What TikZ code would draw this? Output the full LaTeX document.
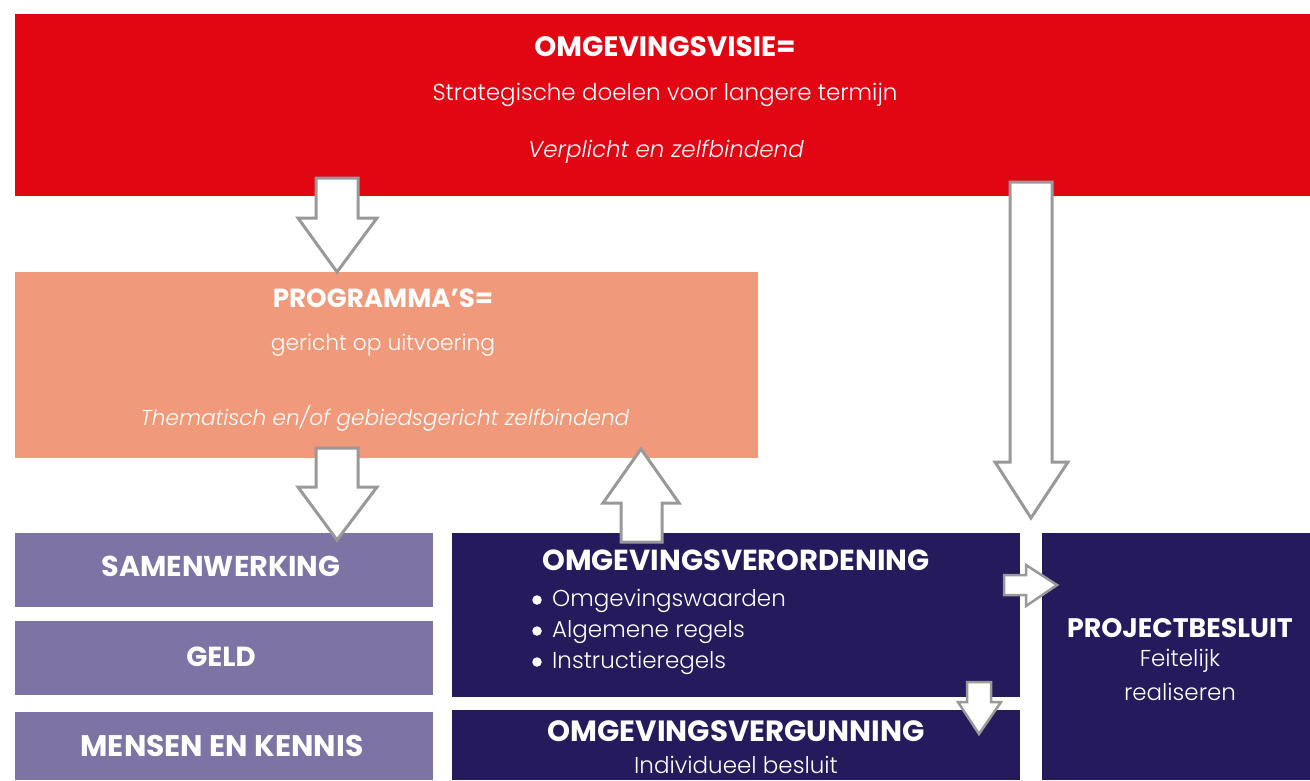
\documentclass[tikz,border=0pt]{standalone}
\usepackage{fontspec}
\setmainfont{Poppins}[UprightFont=* Light, ItalicFont=* Light Italic, BoldFont=* Bold]
\definecolor{visred}{RGB}{226,6,19}
\definecolor{progsalmon}{RGB}{240,153,123}
\definecolor{lpurple}{RGB}{125,115,165}
\definecolor{dnavy}{RGB}{36,26,92}
\definecolor{arrgray}{RGB}{153,153,153}
\tikzset{
  box/.style={draw=none, inner sep=0pt, anchor=north west},
  blockarrow/.style={draw=arrgray, fill=white, line width=3pt, line join=miter},
  head/.style={text=white, font=\bfseries\fontsize{#1}{30}\selectfont, inner sep=0pt},
  head/.default=28,
  body/.style={text=white, font=\fontsize{23}{26}\selectfont, inner sep=0pt},
  bodys/.style={text=white, font=\fontsize{21.8}{24}\selectfont, inner sep=0pt},
  itbody/.style={text=white, font=\itshape\fontsize{23}{26}\selectfont, inner sep=0pt},
  itbodys/.style={text=white, font=\itshape\fontsize{21.6}{24}\selectfont, inner sep=0pt},
  bulletdot/.style={circle, fill=white, inner sep=0pt, minimum size=9.5pt},
}
\begin{document}
\begin{tikzpicture}[x=1pt,y=-1pt]
\useasboundingbox[fill=white] (0,0) rectangle (1310,780);
% boxes
\node[box, fill=visred, minimum width=1295pt, minimum height=182pt] (visie) at (15,14) {};
\node[box, fill=progsalmon, minimum width=743pt, minimum height=186pt] (prog) at (15,272) {};
\node[box, fill=lpurple, minimum width=418pt, minimum height=74pt] (samen) at (15,533) {};
\node[box, fill=lpurple, minimum width=418pt, minimum height=74pt] (geld) at (15,621) {};
\node[box, fill=lpurple, minimum width=418pt, minimum height=68pt] (mensen) at (15,712) {};
\node[box, fill=dnavy, minimum width=568pt, minimum height=164pt] (veror) at (452,533) {};
\node[box, fill=dnavy, minimum width=568pt, minimum height=70pt] (vergun) at (452,710) {};
\node[box, fill=dnavy, minimum width=268pt, minimum height=247pt] (proj) at (1042,533) {};
% texts
\node[head=28] (t1) at (665,47) {OMGEVINGSVISIE=};
\node[body] (t2) at (665,95) {Strategische doelen voor langere termijn};
\node[itbody] (t3) at (666,152) {Verplicht en zelfbindend};
\node[head=26.2] (t4) at (383,298) {PROGRAMMA’S=};
\node[bodys] (t5) at (383,345) {gericht op uitvoering};
\node[itbodys] (t6) at (385,418) {Thematisch en/of gebiedsgericht zelfbindend};
\node[head=28.7] (t7) at (221,566) {SAMENWERKING};
\node[head=27.6] (t8) at (221,657) {GELD};
\node[head=29.8] (t9) at (222,746) {MENSEN EN KENNIS};
\node[head=29] (t10) at (736,560) {OMGEVINGSVERORDENING};
\node[bulletdot] (b1) at (537,600) {};
\node[bulletdot] (b2) at (537,631) {};
\node[bulletdot] (b3) at (537,662) {};
\node[body, anchor=west] (l1) at (552,601) {Omgevingswaarden};
\node[body, anchor=west] (l2) at (552,632) {Algemene regels};
\node[body, anchor=west] (l3) at (552,663) {Instructieregels};
\node[head=29.3] (t11) at (736,731) {OMGEVINGSVERGUNNING};
\node[body] (t12) at (736,765) {Individueel besluit};
\node[head=26.8] (t13) at (1180,628) {PROJECTBESLUIT};
\node[body] (t14) at (1180,661) {Feitelijk};
\node[body] (t15) at (1180,692) {realiseren};
% block arrows
\draw[blockarrow] (316,178) -- (358,178) -- (358,218) -- (377,218) -- (337,272) -- (298,218) -- (316,218) -- cycle;
\draw[blockarrow] (316,448) -- (358,448) -- (358,487) -- (377,487) -- (337,540) -- (298,487) -- (316,487) -- cycle;
\draw[blockarrow] (641,449) -- (679,503) -- (662,503) -- (662,542) -- (621,542) -- (621,503) -- (603,503) -- cycle;
\draw[blockarrow] (1010,182) -- (1052,182) -- (1052,462) -- (1068,462) -- (1031,518) -- (995,462) -- (1010,462) -- cycle;
\draw[blockarrow, line width=2.5pt] (1004,575) -- (1026,575) -- (1026,565) -- (1057,585) -- (1026,606) -- (1026,595) -- (1004,595) -- cycle;
\draw[blockarrow, line width=2.5pt] (967,682) -- (991,682) -- (991,702) -- (1001,702) -- (979,734) -- (958,702) -- (967,702) -- cycle;
\end{tikzpicture}
\end{document}
